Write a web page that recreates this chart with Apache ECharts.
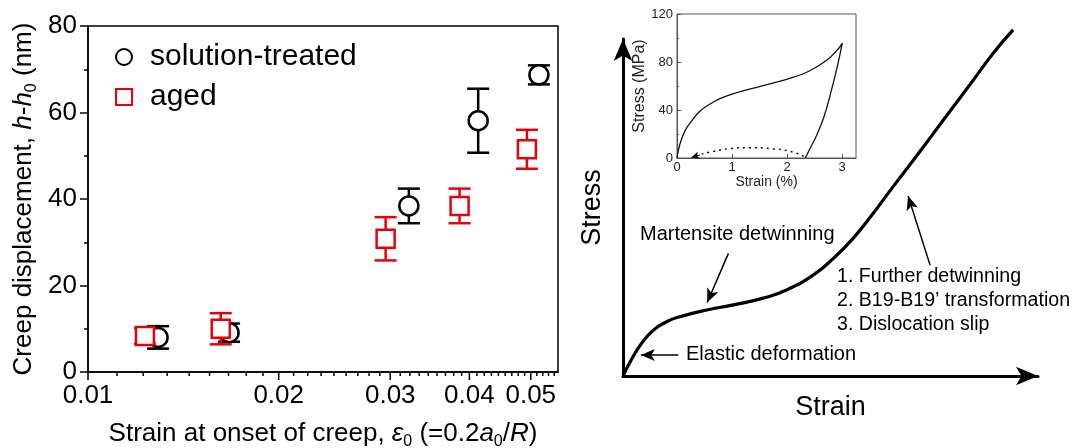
<!DOCTYPE html>
<html><head><meta charset="utf-8">
<script src="https://cdn.jsdelivr.net/npm/echarts@6/dist/echarts.min.js"></script>
<style>html,body{margin:0;padding:0;background:#fff}#c{width:1072px;height:448px}</style>
</head><body><div id="c"></div>
<script>
// ---------- Left panel data ----------
const stStrain = [0.0129, 0.0167, 0.0321, 0.0413, 0.0515];
const stDisp   = [8.0, 9.1, 38.4, 58.1, 68.7];
const stErr    = [2.6, 2.1, 4.0, 7.4, 2.2];
const agStrain = [0.0123, 0.0162, 0.0295, 0.0386, 0.0493];
const agDisp   = [8.3, 10.0, 30.8, 38.4, 51.5];
const agErr    = [1.8, 3.6, 5.0, 4.0, 4.5];
const xMajorTicks = [0.01, 0.02, 0.03, 0.04, 0.05];
const xTickLabels = ['0.01', '0.02', '0.03', '0.04', '0.05'];
const xMin = 0.01, xMax = 0.0552;
// ---------- Right panel schematic (arbitrary units) ----------
const schemStrain = [0, 2.4, 4.5, 7.3, 10.5, 13.7, 20.2, 26.6, 33.8, 39.4, 45.9, 50.7, 55.5, 60.3, 65.1, 70.0, 74.8, 79.6, 84.4, 89.2, 94.0];
const schemStress = [0, 5.7, 9.7, 13.6, 16.1, 17.6, 19.6, 21.1, 23.1, 25.5, 30.0, 34.9, 40.9, 48.3, 56.2, 64.1, 72.0, 79.9, 87.8, 95.8, 102.7];
const arrowMartensite = [[25.4, 36.4], [20.3, 21.8]];
const arrowFurther    = [[74.0, 32.9], [68.7, 53.4]];
const arrowElastic    = [[13.3, 6.2], [4.3, 6.2]];
// ---------- Inset ----------
const loadStrain   = [0, 0.05, 0.14, 0.26, 0.41, 0.6, 0.78, 1.0, 1.33, 1.69, 2.06, 2.42, 2.73, 2.91, 3.0];
const loadStress   = [0, 11, 22.2, 30.5, 38.8, 45.0, 49.5, 53.3, 57.6, 61.8, 66.5, 72.9, 81.8, 90, 95.6];
const unloadStrain = [3.0, 2.91, 2.79, 2.67, 2.54, 2.42, 2.33];
const unloadStress = [95.6, 76.2, 54, 34.6, 19.4, 8.3, 0];
const recStrain    = [2.3, 2.06, 1.69, 1.33, 0.96, 0.66, 0.41, 0.32];
const recStress    = [1.4, 5.5, 7.8, 8.6, 7.8, 5.5, 2.8, 1.4];
const recArrow     = [[0.42, 2.6], [0.26, 0.4]];

const FF = 'Liberation Sans, Arial, sans-serif';
const zip = (a, b) => a.map((v, i) => [v, b[i]]);

const xMinorTicks = [];
for (let i = 0; i < xMajorTicks.length; i++) {
  const step = 0.01 / 9;
  for (let k = 1; k <= 8; k++) {
    const v = xMajorTicks[i] + k * step;
    if (v <= xMax) xMinorTicks.push(v);
  }
}

function errSeries(xs, ys, es, color, z) {
  return {
    type: 'custom', xAxisIndex: 0, yAxisIndex: 0, z: z, silent: true, clip: false,
    data: xs.map((x, i) => [x, ys[i] - es[i], ys[i] + es[i]]),
    renderItem(params, api) {
      const lo = api.coord([api.value(0), api.value(1)]);
      const hi = api.coord([api.value(0), api.value(2)]);
      const hw = 11;
      const st = { stroke: color, lineWidth: 2.5, fill: null };
      return { type: 'group', children: [
        { type: 'line', shape: { x1: lo[0], y1: lo[1], x2: hi[0], y2: hi[1] }, style: st },
        { type: 'line', shape: { x1: lo[0] - hw, y1: lo[1], x2: lo[0] + hw, y2: lo[1] }, style: st },
        { type: 'line', shape: { x1: hi[0] - hw, y1: hi[1], x2: hi[0] + hw, y2: hi[1] }, style: st }
      ]};
    }
  };
}

function tickSeries(vals, major) {
  return {
    type: 'custom', xAxisIndex: 0, yAxisIndex: 0, silent: true, clip: false, z: 5,
    data: vals.map(v => [v, 0]),
    renderItem(params, api) {
      const p = api.coord([api.value(0), 0]);
      const ch = [{ type: 'line', shape: { x1: p[0], y1: p[1], x2: p[0], y2: p[1] + (major ? 8 : 4) },
                    style: { stroke: '#000', lineWidth: 1.5 } }];
      if (major) ch.push({ type: 'text', x: p[0], y: p[1] + 11,
        style: { text: xTickLabels[params.dataIndex], fontSize: 26, fontFamily: FF, fill: '#000', align: 'center', verticalAlign: 'top' } });
      return { type: 'group', children: ch };
    }
  };
}

const richSub = {
  i: { fontStyle: 'italic', fontSize: 26, fontFamily: FF, color: '#000' },
  sub: { fontSize: 16, fontFamily: FF, color: '#000', padding: [16, 0, 0, 0] }
};

const option = {
  animation: false,
  backgroundColor: '#fff',
  textStyle: { fontFamily: FF },
  grid: [
    { left: 88, right: 514, top: 26, bottom: 76, outerBoundsMode: 'none', containLabel: false, show: true, borderColor: '#000', borderWidth: 1.5, backgroundColor: 'transparent' },
    { left: 623, right: 34, top: 39, bottom: 72, outerBoundsMode: 'none', containLabel: false },
    { left: 677, right: 216, top: 14, bottom: 290, outerBoundsMode: 'none', containLabel: false, show: true, borderColor: '#555', borderWidth: 1, backgroundColor: 'transparent' }
  ],
  legend: {
    data: ['solution-treated', 'aged'], orient: 'vertical', left: 115, top: 42, padding: 0,
    itemWidth: 16, itemHeight: 16, itemGap: 10,
    textStyle: { fontSize: 30, color: '#000', fontFamily: FF, padding: [0, 0, 0, 13] }
  },
  xAxis: [
    { gridIndex: 0, type: 'log', logBase: 10, min: xMin, max: xMax,
      axisLine: { show: true, lineStyle: { color: '#000', width: 1.5 } },
      axisTick: { show: false }, axisLabel: { show: false }, splitLine: { show: false }, minorTick: { show: false },
      name: 'Strain at onset of creep, {i|ε}{sub|0} (=0.2{i|a}{sub|0}/{i|R})',
      nameLocation: 'middle', nameGap: 46,
      nameTextStyle: { fontSize: 26, color: '#000', fontFamily: FF, rich: richSub } },
    { gridIndex: 1, type: 'value', min: 0, max: 100,
      axisLine: { show: true, symbol: ['none', 'arrow'], symbolSize: [14, 22], lineStyle: { color: '#000', width: 3 } },
      axisTick: { show: false }, axisLabel: { show: false }, splitLine: { show: false },
      name: 'Strain', nameLocation: 'middle', nameGap: 18,
      nameTextStyle: { fontSize: 27, color: '#000', fontFamily: FF } },
    { gridIndex: 2, type: 'value', min: 0, max: 3.25, interval: 1,
      axisLine: { show: true, lineStyle: { color: '#555', width: 1 } },
      axisTick: { show: true, inside: true, length: 4, lineStyle: { color: '#555' } },
      axisLabel: { fontSize: 13, color: '#222', margin: 3, showMaxLabel: false, fontFamily: FF },
      splitLine: { show: false },
      name: 'Strain (%)', nameLocation: 'middle', nameGap: 17,
      nameTextStyle: { fontSize: 14, color: '#222', fontFamily: FF } }
  ],
  yAxis: [
    { gridIndex: 0, type: 'value', min: 0, max: 80, interval: 20,
      axisLine: { show: true, lineStyle: { color: '#000', width: 1.5 } },
      axisTick: { show: true, length: 8, lineStyle: { color: '#000', width: 1.5 } },
      minorTick: { show: true, splitNumber: 2, length: 4, lineStyle: { color: '#000', width: 1.5 } },
      axisLabel: { fontSize: 26, color: '#000', margin: 11, fontFamily: FF },
      splitLine: { show: false },
      name: 'Creep displacement, {i|h}-{i|h}{sub|0} (nm)', nameLocation: 'middle', nameGap: 48, nameRotate: 90,
      nameTextStyle: { fontSize: 26, color: '#000', fontFamily: FF, rich: richSub } },
    { gridIndex: 1, type: 'value', min: 0, max: 100,
      axisLine: { show: true, symbol: ['none', 'arrow'], symbolSize: [14, 22], lineStyle: { color: '#000', width: 3 } },
      axisTick: { show: false }, axisLabel: { show: false }, splitLine: { show: false },
      name: 'Stress', nameLocation: 'middle', nameGap: 17, nameRotate: 90,
      nameTextStyle: { fontSize: 27, color: '#000', fontFamily: FF } },
    { gridIndex: 2, type: 'value', min: 0, max: 120, interval: 40,
      axisLine: { show: true, lineStyle: { color: '#555', width: 1 } },
      axisTick: { show: true, inside: true, length: 4, lineStyle: { color: '#555' } },
      minorTick: { show: true, splitNumber: 2, length: 2, lineStyle: { color: '#555' } },
      axisLabel: { fontSize: 13, color: '#222', margin: 4, fontFamily: FF },
      splitLine: { show: false },
      name: 'Stress (MPa)', nameLocation: 'middle', nameGap: 19, nameRotate: 90,
      nameTextStyle: { fontSize: 16, color: '#222', fontFamily: FF } }
  ],
  series: [
    tickSeries(xMinorTicks, false),
    tickSeries(xMajorTicks, true),
    errSeries(stStrain, stDisp, stErr, '#000', 2),
    { name: 'solution-treated', type: 'scatter', xAxisIndex: 0, yAxisIndex: 0, z: 3,
      symbol: 'circle', symbolSize: 19, data: zip(stStrain, stDisp),
      itemStyle: { color: '#fff', borderColor: '#000', borderWidth: 2.5, opacity: 1 }, emphasis: { disabled: true } },
    errSeries(agStrain, agDisp, agErr, '#e8000b', 4),
    { name: 'aged', type: 'scatter', xAxisIndex: 0, yAxisIndex: 0, z: 5,
      symbol: 'rect', symbolSize: 18, data: zip(agStrain, agDisp),
      itemStyle: { color: '#fff', borderColor: '#e8000b', borderWidth: 2.5, opacity: 1 }, emphasis: { disabled: true } },
    { type: 'line', xAxisIndex: 1, yAxisIndex: 1, smooth: true, showSymbol: false, clip: false, silent: true,
      data: zip(schemStrain, schemStress), lineStyle: { color: '#000', width: 3.2 },
      markLine: { silent: true, symbol: ['none', 'arrow'], symbolSize: [9, 14], label: { show: false },
        lineStyle: { color: '#000', width: 1.5, type: 'solid' },
        data: [arrowMartensite, arrowFurther, arrowElastic].map(a => [{ coord: a[0] }, { coord: a[1] }]) } },
    { type: 'line', xAxisIndex: 2, yAxisIndex: 2, smooth: 0.4, showSymbol: false, silent: true,
      data: zip(loadStrain, loadStress), lineStyle: { color: '#111', width: 1.3 } },
    { type: 'line', xAxisIndex: 2, yAxisIndex: 2, smooth: 0.4, showSymbol: false, silent: true,
      data: zip(unloadStrain, unloadStress), lineStyle: { color: '#111', width: 1.3 } },
    { type: 'line', xAxisIndex: 2, yAxisIndex: 2, smooth: true, showSymbol: false, silent: true,
      data: zip(recStrain, recStress), lineStyle: { color: '#111', width: 1.5, type: [2, 4] },
      markLine: { silent: true, symbol: ['none', 'arrow'], symbolSize: [6, 8], label: { show: false },
        lineStyle: { color: '#111', width: 1, type: 'solid' },
        data: [[{ coord: recArrow[0] }, { coord: recArrow[1] }]] } }
  ],
  graphic: [
    { type: 'text', left: 640, top: 224, style: { text: 'Martensite detwinning', fontSize: 20, fontFamily: FF, fill: '#000' } },
    { type: 'text', left: 837, top: 265, style: { text: '1. Further detwinning\n2. B19-B19\u2019 transformation\n3. Dislocation slip', fontSize: 19.6, lineHeight: 24, fontFamily: FF, fill: '#000' } },
    { type: 'text', left: 686, top: 344, style: { text: 'Elastic deformation', fontSize: 20, fontFamily: FF, fill: '#000' } }
  ]
};

const chart = echarts.init(document.getElementById('c'), null, { renderer: 'canvas' });
chart.setOption(option);
</script></body></html>
